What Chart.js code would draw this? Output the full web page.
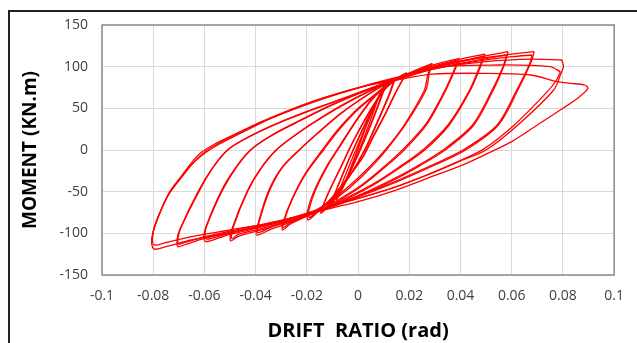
<!DOCTYPE html>
<html>
<head>
<meta charset="utf-8">
<script src="https://cdn.jsdelivr.net/npm/chart.js@4.4.1/dist/chart.umd.min.js"></script>
<style>
  html, body { margin: 0; padding: 0; background: #fff; overflow: hidden; }
</style>
</head>
<body>
<canvas id="chart" width="637" height="343"></canvas>
<script>
// drift ratio (rad), moment (kN.m) pairs, one array per cycle
const c005 = [[0.0055,50],[0.004,36],[0.001,10],[-0.002,-16],[-0.0055,-42],[-0.004,-30],[-0.001,-6],[0.002,20],[0.0055,50]];
const c0075 = [[0.0085,68],[0.006,46],[0.002,12],[-0.003,-26],[-0.0085,-60],[-0.0065,-42],[-0.002,-8],[0.003,28],[0.0085,68]];
const c010 = [[0.011,80],[0.009,62],[0.005,30],[0,-6],[-0.005,-38],[-0.011,-68],[-0.0085,-48],[-0.004,-14],[0.001,20],[0.006,52],[0.011,80]];
const c010b = [[0.0105,78],[0.0085,60],[0.0045,28],[-0.0005,-8],[-0.0055,-40],[-0.0108,-66],[-0.0082,-46],[-0.0036,-12],[0.0014,22],[0.0064,53],[0.0105,78]];
const c015 = [[0.0145,86],[0.0125,68],[0.008,36],[0.003,2],[-0.003,-30],[-0.009,-56],[-0.0145,-76],[-0.012,-54],[-0.007,-22],[-0.002,10],[0.004,44],[0.0095,70],[0.0145,86]];
const c015b = [[0.014,84],[0.012,66],[0.0075,34],[0.0025,0],[-0.0035,-32],[-0.0095,-57],[-0.0142,-74],[-0.0116,-52],[-0.0066,-20],[-0.0016,12],[0.0044,45],[0.0098,70],[0.014,84]];
const c020a = [[0.019,93],[0.0175,85],[0.0152,72],[0.011,45],[0.006,16],[0.002,-8],[-0.004,-34],[-0.01,-57],[-0.015,-72],[-0.0195,-84],[-0.0198,-74],[-0.017,-48],[-0.012,-18],[-0.007,6],[-0.002,30],[0.004,56],[0.01,76],[0.015,86],[0.019,93]];
const c020b = [[0.0185,90],[0.017,82],[0.0148,70],[0.0105,43],[0.0055,14],[0.0015,-10],[-0.0045,-35],[-0.0105,-58],[-0.015,-71],[-0.019,-81],[-0.0192,-72],[-0.0165,-47],[-0.0115,-17],[-0.0065,7],[-0.0015,31],[0.0045,57],[0.0105,76],[0.0152,85],[0.0185,90]];
const c030a = [[0.029,104],[0.0278,92],[0.0265,72],[0.0184,30],[0.011,0],[0.004,-24],[-0.004,-47],[-0.012,-65],[-0.02,-79],[-0.027,-90],[-0.0295,-96],[-0.0292,-86],[-0.026,-60],[-0.021,-30],[-0.014,0],[-0.008,24],[0,50],[0.008,70],[0.015,85],[0.022,95],[0.029,104]];
const c030b = [[0.0285,101],[0.0272,90],[0.0258,71],[0.018,30],[0.0108,1],[0.0035,-23],[-0.0045,-46],[-0.012,-64],[-0.02,-78],[-0.0268,-88],[-0.0292,-93],[-0.0288,-84],[-0.0255,-58],[-0.0205,-29],[-0.0135,0],[-0.0075,24],[0.0005,50],[0.0085,70],[0.0155,85],[0.0222,94],[0.0285,101]];
const c040a = [[0.0395,110],[0.0378,96],[0.0343,72],[0.0267,30],[0.018,0],[0.01,-22],[0.002,-42],[-0.006,-58],[-0.014,-72],[-0.024,-84],[-0.034,-95],[-0.0396,-102],[-0.0392,-90],[-0.0351,-50],[-0.03,-22],[-0.023,0],[-0.015,22],[-0.007,43],[0.002,63],[0.01,78],[0.018,90],[0.028,101],[0.0395,110]];
const c040b = [[0.039,107],[0.0372,94],[0.0338,71],[0.0262,30],[0.0176,1],[0.0098,-21],[0.0018,-41],[-0.0062,-57],[-0.0142,-71],[-0.024,-83],[-0.0335,-92],[-0.0392,-99],[-0.0388,-88],[-0.0346,-49],[-0.0296,-21],[-0.0226,1],[-0.0148,23],[-0.0068,44],[0.0022,63],[0.0102,78],[0.0182,89],[0.0282,99],[0.039,107]];
const c050a = [[0.0496,115],[0.0478,100],[0.0439,72],[0.0356,30],[0.026,0],[0.016,-22],[0.006,-42],[-0.004,-58],[-0.014,-72],[-0.025,-84],[-0.038,-96],[-0.047,-104],[-0.0498,-109],[-0.0494,-96],[-0.0434,-50],[-0.038,-22],[-0.032,0],[-0.024,19],[-0.014,39],[-0.004,57],[0.006,73],[0.016,87],[0.03,101],[0.04,109],[0.0496,115]];
const c050b = [[0.049,112],[0.0472,98],[0.0434,71],[0.0351,30],[0.0256,1],[0.0158,-21],[0.0058,-41],[-0.0042,-57],[-0.0142,-71],[-0.025,-83],[-0.0375,-94],[-0.0465,-101],[-0.0493,-106],[-0.0489,-94],[-0.043,-49],[-0.0376,-21],[-0.0316,1],[-0.0236,20],[-0.0138,40],[-0.0038,58],[0.0062,73],[0.0162,86],[0.0302,99],[0.0402,106],[0.049,112]];
const c060a = [[0.0586,118],[0.0572,103],[0.0528,72],[0.0452,30],[0.034,0],[0.024,-19],[0.012,-39],[0,-56],[-0.012,-70],[-0.025,-82],[-0.04,-94],[-0.052,-103],[-0.0595,-110],[-0.0602,-104],[-0.0594,-92],[-0.0536,-50],[-0.048,-22],[-0.042,0],[-0.034,17],[-0.022,36],[-0.01,54],[0.002,70],[0.015,85],[0.03,100],[0.045,110],[0.0586,118]];
const c060b = [[0.058,114],[0.0566,100],[0.0522,71],[0.0447,30],[0.0336,1],[0.0238,-18],[0.0118,-38],[-0.0002,-55],[-0.0122,-69],[-0.025,-81],[-0.0398,-92],[-0.0515,-101],[-0.0592,-107],[-0.0598,-101],[-0.059,-90],[-0.0531,-49],[-0.0476,-21],[-0.0416,1],[-0.0336,18],[-0.0218,37],[-0.0098,55],[0.0022,70],[0.0152,84],[0.0302,98],[0.0452,107],[0.058,114]];
const c070a = [[0.0688,118],[0.0675,105],[0.0624,72],[0.0548,30],[0.042,0],[0.03,-18],[0.016,-37],[0.002,-54],[-0.012,-70],[-0.028,-84],[-0.045,-96],[-0.06,-106],[-0.068,-114],[-0.0703,-116],[-0.0707,-108],[-0.0697,-96],[-0.0625,-50],[-0.057,-22],[-0.051,0],[-0.043,15],[-0.032,31],[-0.018,48],[-0.004,64],[0.01,80],[0.025,96],[0.045,109],[0.06,115],[0.0688,118]];
const c070b = [[0.068,114],[0.0668,102],[0.0618,71],[0.0543,30],[0.0416,1],[0.0298,-17],[0.0158,-36],[0.0018,-53],[-0.0122,-69],[-0.028,-83],[-0.0448,-94],[-0.0598,-104],[-0.0676,-111],[-0.07,-113],[-0.0703,-106],[-0.0693,-94],[-0.062,-49],[-0.0566,-21],[-0.0506,1],[-0.0426,16],[-0.0316,32],[-0.0176,49],[-0.0036,64],[0.0102,80],[0.0252,94],[0.0452,106],[0.0602,112],[0.068,114]];
const c080a = [[0.0796,108],[0.0802,100],[0.079,90],[0.0764,72],[0.0624,30],[0.05,0],[0.04,-13],[0.027,-30],[0.014,-45],[0,-58],[-0.014,-71],[-0.03,-86],[-0.05,-99],[-0.065,-108],[-0.075,-116],[-0.0795,-119],[-0.0806,-112],[-0.0802,-100],[-0.078,-80],[-0.0745,-56],[-0.07,-36],[-0.0655,-17],[-0.0613,-3],[-0.056,7],[-0.048,19],[-0.037,35],[-0.018,58],[0.0025,77],[0.015,87],[0.03,98],[0.05,106],[0.068,109],[0.0796,108]];
const c080b = [[0.079,94],[0.0775,84],[0.0739,70],[0.061,30],[0.049,1],[0.039,-14],[0.026,-31],[0.013,-46],[-0.001,-59],[-0.015,-71],[-0.03,-85],[-0.05,-96],[-0.065,-104],[-0.075,-111],[-0.0795,-114],[-0.0804,-108],[-0.0798,-96],[-0.0775,-76],[-0.0738,-52],[-0.069,-33],[-0.0645,-16],[-0.0598,-2],[-0.0545,8],[-0.047,20],[-0.035,37],[-0.016,59],[0.003,77],[0.015,86],[0.029,99],[0.055,102],[0.075,100],[0.079,94]];
const c090 = [[-0.0804,-108],[-0.0798,-95],[-0.0772,-74],[-0.0735,-50],[-0.0685,-30],[-0.0635,-13],[-0.0585,-1],[-0.053,9],[-0.046,20],[-0.034,38],[-0.016,60],[0.003,77],[0.015,84],[0.029,91],[0.048,92],[0.0675,90],[0.0777,82],[0.083,80],[0.0885,78],[0.0898,74],[0.0865,64],[0.08,50],[0.07,30],[0.06,10],[0.05,-5],[0.04,-19],[0.027,-34],[0.014,-49],[0,-62],[-0.015,-73]];

const cycles = [c005, c0075, c010, c010b, c015, c015b, c020a, c020b, c030a, c030b,
  c040a, c040b, c050a, c050b, c060a, c060b, c070a, c070b, c080a, c080b, c090];

const xTicks = { min: -0.1, max: 0.1, step: 0.02 };
const yTicks = { min: -150, max: 150, step: 50 };

// plot box border on all four sides, plus the figure frame (top and left edges)
const boxBorder = {
  id: 'boxBorder',
  afterDraw(chart) {
    const { ctx, chartArea: a } = chart;
    ctx.save();
    ctx.strokeStyle = '#8c8c8c';
    ctx.lineWidth = 1.5;
    ctx.strokeRect(a.left, a.top, a.right - a.left, a.bottom - a.top);
    ctx.strokeStyle = '#222';
    ctx.lineWidth = 2;
    ctx.beginPath();
    ctx.moveTo(9, chart.height);
    ctx.lineTo(9, 11);
    ctx.lineTo(chart.width, 11);
    ctx.stroke();
    ctx.restore();
  }
};

const datasets = cycles.map(c => ({
  data: c.map(p => ({ x: p[0], y: p[1] })),
  showLine: true,
  borderColor: '#ff0000',
  borderWidth: 1.3,
  pointRadius: 0,
  tension: 0.3,
  fill: false
}));

new Chart(document.getElementById('chart'), {
  type: 'scatter',
  data: { datasets: datasets },
  plugins: [boxBorder],
  options: {
    responsive: false,
    animation: false,
    layout: { padding: { top: 25, right: 12, left: 0, bottom: 0 } },
    plugins: { legend: { display: false }, tooltip: { enabled: false } },
    scales: {
      x: {
        min: xTicks.min, max: xTicks.max,
        ticks: {
          stepSize: xTicks.step,
          color: '#404040',
          font: { family: 'Open Sans', size: 14 },
          padding: 13,
          callback: v => Number(v.toFixed(2)).toString()
        },
        grid: { color: '#d9d9d9', drawTicks: false },
        border: { display: false },
        title: {
          display: true, text: 'DRIFT  RATIO (rad)', color: '#000',
          font: { family: 'Open Sans', size: 20, weight: 'bold' },
          padding: { top: 4, bottom: 0 }
        },
        afterFit: s => { s.height = 68; }
      },
      y: {
        min: yTicks.min, max: yTicks.max,
        ticks: {
          stepSize: yTicks.step,
          color: '#404040',
          font: { family: 'Open Sans', size: 14 },
          padding: 14
        },
        grid: { color: '#d9d9d9', drawTicks: false },
        border: { display: false },
        title: {
          display: true, text: 'MOMENT (KN.m)', color: '#000',
          font: { family: 'Open Sans', size: 19, weight: 'bold' },
          padding: { top: 19, bottom: 0 }
        },
        afterFit: s => { s.width = 102; }
      }
    }
  }
});
</script>
</body>
</html>
